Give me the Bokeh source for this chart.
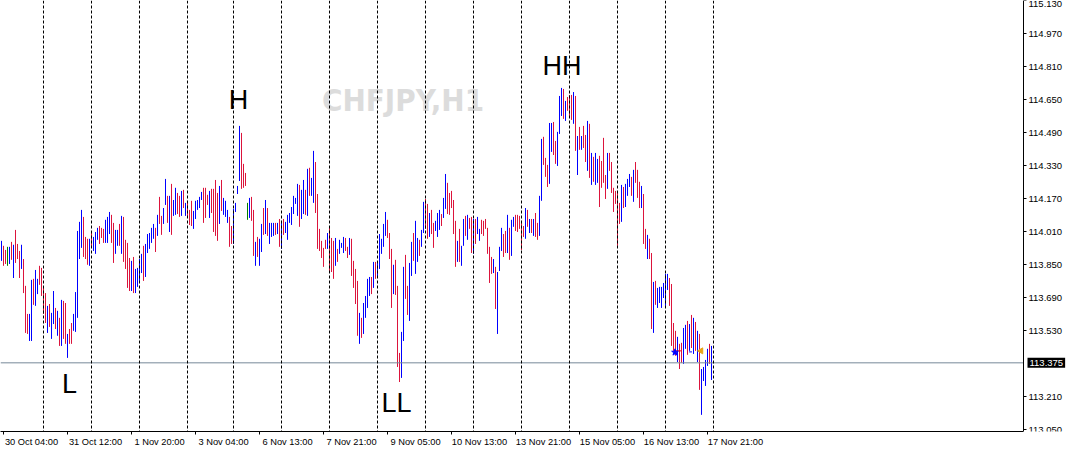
from bokeh.plotting import figure
from bokeh.models import Range1d, FixedTicker, PrintfTickFormatter, Span, Label, ColumnDataSource
from bokeh.core.properties import value
from bokeh.embed import file_html
from bokeh.resources import INLINE
import math

symbol_title = "CHFJPY,H1"

# H1 bars, index 0 = 30 Oct 03:00
highs = [
    113.966, 113.942, 113.922, 113.937, 113.937, 113.961, 113.947, 114.019, 113.951, 113.917,
    113.947, 113.878, 113.748, 113.612, 113.612, 113.777, 113.782, 113.825, 113.782, 113.845,
    113.835, 113.743, 113.713, 113.651, 113.660, 113.617, 113.723, 113.641, 113.627, 113.593,
    113.680, 113.675, 113.665, 113.515, 113.539, 113.568, 113.612, 113.718, 114.014, 114.058,
    114.116, 114.082, 113.985, 113.976, 113.976, 114.009, 113.985, 114.009, 114.029, 114.038,
    114.029, 114.024, 114.068, 114.082, 114.106, 114.092, 114.053, 114.019, 114.019, 114.048,
    114.087, 114.082, 113.971, 113.956, 113.883, 113.869, 113.888, 113.830, 113.835, 113.878,
    113.903, 113.942, 113.951, 113.999, 114.004, 114.029, 114.048, 114.029, 114.092, 114.179,
    114.087, 114.125, 114.266, 114.184, 114.184, 114.242, 114.164, 114.223, 114.198, 114.184,
    114.208, 114.213, 114.150, 114.160, 114.116, 114.160, 114.111, 114.160, 114.164, 114.179,
    114.203, 114.223, 114.223, 114.189, 114.208, 114.218, 114.218, 114.261, 114.198, 114.232,
    114.261, 114.174, 114.160, 114.116, 114.082, 114.038, 114.121, 114.150, 114.232, 114.523,
    114.489, 114.339, 114.295, 114.150, 114.174, 114.179, 114.116, 113.961, 113.985, 113.976,
    114.048, 114.125, 114.164, 114.125, 114.053, 114.053, 114.053, 114.053, 114.053, 114.072,
    114.063, 114.072, 114.058, 114.092, 114.101, 114.130, 114.184, 114.174, 114.242, 114.237,
    114.213, 114.261, 114.213, 114.315, 114.320, 114.271, 114.402, 114.348, 114.193, 114.024,
    113.966, 113.932, 113.971, 114.004, 114.029, 113.980, 113.966, 113.980, 113.927, 113.971,
    113.956, 113.985, 113.980, 113.937, 113.980, 113.976, 113.869, 113.830, 113.772, 113.617,
    113.593, 113.665, 113.699, 113.782, 113.791, 113.791, 113.864, 113.864, 113.864, 113.999,
    113.976, 114.048, 114.106, 114.068, 114.004, 113.927, 113.850, 113.874, 113.748, 113.423,
    113.525, 113.840, 113.898, 113.748, 113.859, 113.961, 114.004, 114.063, 113.980, 113.971,
    114.019, 114.155, 114.169, 114.145, 114.101, 114.116, 114.053, 114.063, 114.101, 114.116,
    114.096, 114.174, 114.290, 114.247, 114.198, 114.208, 114.164, 114.063, 113.966, 114.024,
    113.942, 114.072, 114.087, 114.092, 114.077, 114.082, 114.072, 114.072, 114.082, 114.024,
    114.068, 114.063, 114.072, 114.029, 113.937, 113.888, 113.878, 113.840, 113.815, 113.937,
    114.029, 113.999, 114.014, 114.092, 114.029, 114.068, 114.082, 114.092, 114.092, 114.087,
    114.063, 114.038, 114.125, 114.116, 114.072, 114.072, 114.072, 114.101, 114.053, 114.184,
    114.460, 114.470, 114.368, 114.334, 114.537, 114.537, 114.542, 114.450, 114.494, 114.668,
    114.707, 114.702, 114.644, 114.663, 114.673, 114.673, 114.687, 114.668, 114.474, 114.518,
    114.474, 114.523, 114.479, 114.547, 114.533, 114.392, 114.373, 114.392, 114.363, 114.378,
    114.353, 114.465, 114.285, 114.392, 114.392, 114.348, 114.223, 114.208, 114.208, 114.150,
    114.237, 114.227, 114.242, 114.266, 114.290, 114.276, 114.310, 114.348, 114.310, 114.252,
    114.232, 114.193, 114.024, 113.995, 113.976, 113.907, 113.767, 113.772, 113.738, 113.743,
    113.743, 113.762, 113.806, 113.806, 113.786, 113.757, 113.568, 113.530, 113.501, 113.467,
    113.472, 113.544, 113.559, 113.578, 113.563, 113.607, 113.593, 113.573, 113.530, 113.515,
    113.345, 113.355, 113.389, 113.443, 113.467, 113.457,
]

lows = [
    113.869, 113.845, 113.854, 113.845, 113.854, 113.874, 113.786, 113.859, 113.878, 113.786,
    113.830, 113.713, 113.520, 113.515, 113.481, 113.481, 113.656, 113.651, 113.708, 113.753,
    113.699, 113.612, 113.568, 113.520, 113.549, 113.491, 113.563, 113.539, 113.506, 113.457,
    113.457, 113.491, 113.467, 113.399, 113.467, 113.467, 113.530, 113.525, 113.593, 113.878,
    113.932, 113.888, 113.878, 113.850, 113.845, 113.932, 113.917, 113.903, 113.971, 113.951,
    113.980, 113.956, 113.956, 113.956, 113.999, 113.956, 113.859, 113.903, 113.942, 113.942,
    113.903, 113.864, 113.830, 113.738, 113.723, 113.723, 113.713, 113.713, 113.743, 113.772,
    113.810, 113.772, 113.791, 113.907, 113.927, 113.956, 113.976, 113.912, 113.990, 114.048,
    113.995, 114.048, 114.140, 114.053, 114.009, 113.995, 114.087, 114.092, 114.096, 114.082,
    114.087, 114.125, 114.087, 114.077, 114.043, 114.038, 114.024, 114.072, 114.116, 114.125,
    114.164, 114.053, 114.077, 114.140, 114.077, 114.101, 114.009, 113.990, 113.966, 114.048,
    114.111, 114.092, 114.082, 114.053, 113.937, 113.951, 113.951, 114.106, 114.193, 114.256,
    114.218, 114.223, 114.232, 114.068, 114.077, 114.063, 113.893, 113.845, 113.888, 113.845,
    113.912, 113.995, 113.999, 113.990, 113.951, 113.985, 113.990, 113.995, 113.999, 113.937,
    113.927, 113.995, 114.004, 113.971, 114.053, 114.043, 114.096, 114.145, 114.087, 114.034,
    114.072, 114.096, 114.092, 114.087, 114.184, 114.184, 114.150, 114.101, 113.927, 113.917,
    113.883, 113.840, 113.927, 113.927, 113.820, 113.815, 113.782, 113.845, 113.864, 113.903,
    113.932, 113.907, 113.917, 113.883, 113.898, 113.796, 113.738, 113.660, 113.506, 113.467,
    113.496, 113.515, 113.593, 113.641, 113.699, 113.708, 113.738, 113.782, 113.786, 113.830,
    113.903, 113.937, 113.990, 113.980, 113.878, 113.641, 113.708, 113.704, 113.355, 113.282,
    113.302, 113.481, 113.685, 113.607, 113.578, 113.796, 113.869, 113.806, 113.864, 113.893,
    113.937, 114.004, 114.024, 113.976, 113.985, 113.999, 113.932, 114.014, 113.985, 114.019,
    114.038, 114.077, 114.121, 114.096, 114.092, 114.125, 113.999, 113.840, 113.864, 113.864,
    113.845, 113.942, 113.990, 113.971, 114.024, 113.907, 113.903, 113.951, 113.999, 113.966,
    113.999, 113.990, 114.024, 113.903, 113.762, 113.806, 113.810, 113.636, 113.515, 113.820,
    113.917, 113.888, 113.907, 113.907, 113.874, 113.893, 114.034, 114.014, 114.009, 114.024,
    113.922, 113.985, 113.976, 114.034, 114.004, 114.004, 113.990, 113.985, 113.971, 113.990,
    114.160, 114.334, 114.276, 114.227, 114.242, 114.397, 114.382, 114.339, 114.329, 114.484,
    114.571, 114.557, 114.547, 114.596, 114.571, 114.552, 114.533, 114.402, 114.285, 114.407,
    114.407, 114.416, 114.348, 114.305, 114.271, 114.237, 114.252, 114.237, 114.247, 114.130,
    114.223, 114.247, 114.169, 114.218, 114.305, 114.198, 114.106, 114.145, 113.942, 114.048,
    114.058, 114.125, 114.130, 114.184, 114.227, 114.184, 114.155, 114.247, 114.174, 114.125,
    114.125, 113.951, 113.927, 113.878, 113.878, 113.539, 113.520, 113.656, 113.641, 113.665,
    113.641, 113.689, 113.651, 113.728, 113.651, 113.457, 113.433, 113.409, 113.379, 113.345,
    113.375, 113.370, 113.443, 113.414, 113.433, 113.447, 113.418, 113.433, 113.379, 113.244,
    113.123, 113.287, 113.263, 113.360, 113.370, 113.292,
]

# u = bull bar, d = bear bar, n = doji
directions = (
    "uddnududdd" "uddduuduud" "ddduduudud" "uddudduuuu" "uddduduuud"
    "dduuudduud" "udddduduuu" "uduuuuudud" "duududuudd" "ududdduuuu"
    "uddduddddu" "duuudduuuu" "dddnuddudu" "ududuuudud" "uduuuuuuud"
    "uududuuddd" "dddudddudu" "uudduddddu" "duuuududuu" "uuuddduddd"
    "uudduuduud" "uuddudduuu" "duudddddud" "uududduduu" "dddddduduu"
    "udduduuddd" "ddudududdu" "uddduudduu" "ududddudud" "uddududuud"
    "dddudddddd" "uduuududdd" "uddudduduu" "uuuuddddud" "duudududud"
    "uuuudu"
)

separator_bars = [21, 45, 69, 93, 116, 140, 164, 188, 212, 236, 260, 284, 308, 332, 356]
time_label_bars = [1, 33, 65, 97, 129, 161, 193, 225, 257, 289, 321, 353]
time_labels = ["30 Oct 04:00", "31 Oct 12:00", "1 Nov 20:00", "3 Nov 04:00", "6 Nov 13:00",
               "7 Nov 21:00", "9 Nov 05:00", "10 Nov 13:00", "13 Nov 21:00", "15 Nov 05:00",
               "16 Nov 13:00", "17 Nov 21:00"]
price_ticks = [113.050, 113.210, 113.530, 113.690, 113.850, 114.010, 114.170,
               114.330, 114.490, 114.650, 114.810, 114.970, 115.130]
current_price = 113.375

pattern_labels = ["H", "HH", "L", "LL"]
pattern_bars = [118.5, 280.25, 34.0, 197.5]
pattern_prices = [114.648, 114.813, 113.272, 113.180]

# trade arrows
open_mark_bar = [336.75]
open_mark_price = [113.426]
order_line_bars = [336.25, 339.75]
order_line_price = 113.433
stop_line_bars = [343.75, 345.25]
stop_line_price = 113.428
close_mark_bar = [349.75]
close_mark_price = [113.433]

bar_colors = {"u": "#0000ff", "d": "#dc143c", "n": "#008000"}

FW, FH = 1066, 431
X0 = -0.5                 # 2 px per hourly bar
SCALE_X = 511             # bar position of the price scale
Y_TOP = 115.1305
p = figure(frame_width=FW, frame_height=FH,
           x_range=Range1d(X0, X0 + FW / 2.0),
           y_range=Range1d(Y_TOP - FH / 206.4, Y_TOP),
           x_axis_location="below", y_axis_location="right",
           output_backend="svg", toolbar_location=None,
           min_border_left=0, min_border_top=0, min_border_right=0, min_border_bottom=0,
           background_fill_color="white", border_fill_color="white")
p.outline_line_color = None
p.grid.visible = False

# watermark
p.text(x=[200.75], y=[114.650], text=[symbol_title],
       text_font=value("Liberation Sans Narrow, DejaVu Sans Condensed, Liberation Sans"),
       text_font_size=value("31px"), text_font_style="bold",
       text_color="#dcdcdc", text_align="center", text_baseline="alphabetic")

n = len(highs)
src = ColumnDataSource(dict(
    x=list(range(n)), high=highs, low=lows,
    color=[bar_colors[c] for c in directions[:n]],
))
p.segment(x0="x", y0="low", x1="x", y1="high", line_color="color", line_width=1, source=src)

for b in separator_bars:
    p.add_layout(Span(location=b, dimension="height", line_color="black",
                      line_dash="3 2", line_width=1))
p.segment(x0=[X0], x1=[SCALE_X], y0=[current_price], y1=[current_price],
          line_color="#778899", line_width=1)

# trade arrows
p.segment(x0=[order_line_bars[0]], x1=[order_line_bars[1]], y0=[order_line_price], y1=[order_line_price],
          line_color="#ff0000", line_width=1)
p.segment(x0=[stop_line_bars[0]], x1=[stop_line_bars[1]], y0=[stop_line_price], y1=[stop_line_price],
          line_color="#0000ff", line_width=1)
p.scatter(x=open_mark_bar, y=open_mark_price, marker="star", size=7,
          fill_color="#0000ff", line_color="#0000ff")
p.scatter(x=close_mark_bar, y=close_mark_price, marker="triangle", size=6, angle=math.pi / 2,
          fill_color="#e8a317", line_color="#e8a317")

# pattern labels
p.text(x=pattern_bars, y=pattern_prices, text=pattern_labels,
       text_font=value("Liberation Sans"), text_font_size=value("27px"),
       text_color="black", text_align="center", text_baseline="alphabetic")

# x axis: labels to the right of their tick
label_centers = [b + 14 for b in time_label_bars]
xa = p.xaxis[0]
xa.ticker = FixedTicker(ticks=label_centers, minor_ticks=time_label_bars)
xa.major_label_overrides = {c: t for c, t in zip(label_centers, time_labels)}
xa.bounds = (X0, SCALE_X)
xa.major_tick_out = 0
xa.major_tick_in = 0
xa.minor_tick_out = 3
xa.minor_tick_in = 0
xa.minor_tick_line_color = "black"
xa.axis_line_color = "black"
xa.major_label_standoff = 2
xa.major_label_text_font = "Liberation Sans"
xa.major_label_text_font_size = "9.3px"
xa.major_label_text_color = "black"

ya = p.yaxis[0]
ya.fixed_location = SCALE_X
ya.ticker = FixedTicker(ticks=price_ticks)
ya.formatter = PrintfTickFormatter(format="%.3f")
ya.major_tick_out = 3
ya.major_tick_in = 0
ya.minor_tick_out = 0
ya.minor_tick_in = 0
ya.axis_line_color = "black"
ya.major_tick_line_color = "black"
ya.major_label_standoff = 2
ya.major_label_text_font = "Liberation Sans"
ya.major_label_text_font_size = "9.5px"
ya.major_label_text_color = "black"

p.add_layout(Label(x=SCALE_X + 2, y=current_price,
                   text="%.3f" % current_price, text_color="white",
                   text_font="Liberation Sans", text_font_size="9.5px",
                   text_align="left", text_baseline="middle",
                   background_fill_color="black", padding=2))

open("out.html", "w").write(file_html(p, INLINE))
